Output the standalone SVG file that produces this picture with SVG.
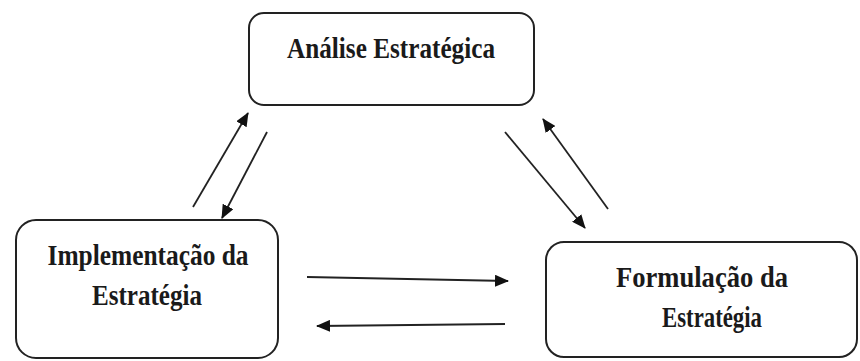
<svg xmlns="http://www.w3.org/2000/svg" width="860" height="361" viewBox="0 0 860 361">
<style>
.box{fill:#fff;stroke:#222;stroke-width:2}
.lbl{font-family:"Liberation Serif",serif;font-weight:bold;font-size:29px;fill:#1a1a1a;text-anchor:middle}
.ln{stroke:#222;stroke-width:1.8;fill:none;marker-end:url(#ah)}
</style>
<defs>
<marker id="ah" viewBox="0 0 14 12" refX="13" refY="6" markerWidth="14" markerHeight="12" markerUnits="userSpaceOnUse" orient="auto">
<path d="M0,0 L14,6 L0,12 Z" fill="#111"/>
</marker>
</defs>
<rect width="860" height="361" fill="#fff"/>
<g id="analise">
<rect class="box" x="249" y="13" width="285" height="92" rx="15"/>
<text class="lbl" x="391" y="58" textLength="208" lengthAdjust="spacingAndGlyphs">Análise Estratégica</text>
</g>
<g id="implementacao">
<rect class="box" x="16" y="220" width="262" height="138" rx="20"/>
<text class="lbl" x="148" y="265" textLength="201" lengthAdjust="spacingAndGlyphs">Implementação da</text>
<text class="lbl" x="147" y="305" textLength="110" lengthAdjust="spacingAndGlyphs">Estratégia</text>
</g>
<g id="formulacao">
<rect class="box" x="546" y="242" width="311" height="115" rx="18"/>
<text class="lbl" x="702" y="287" textLength="172" lengthAdjust="spacingAndGlyphs">Formulação da</text>
<text class="lbl" x="712" y="327" textLength="100" lengthAdjust="spacingAndGlyphs">Estratégia</text>
</g>
<g id="connectors">
<line class="ln" x1="193" y1="207" x2="248" y2="113"/>
<line class="ln" x1="267" y1="132" x2="222" y2="218"/>
<line class="ln" x1="505" y1="132" x2="585" y2="228"/>
<line class="ln" x1="608" y1="209" x2="543" y2="119"/>
<line class="ln" x1="307" y1="277" x2="508" y2="281"/>
<line class="ln" x1="505" y1="324" x2="317" y2="326"/>
</g>
</svg>
